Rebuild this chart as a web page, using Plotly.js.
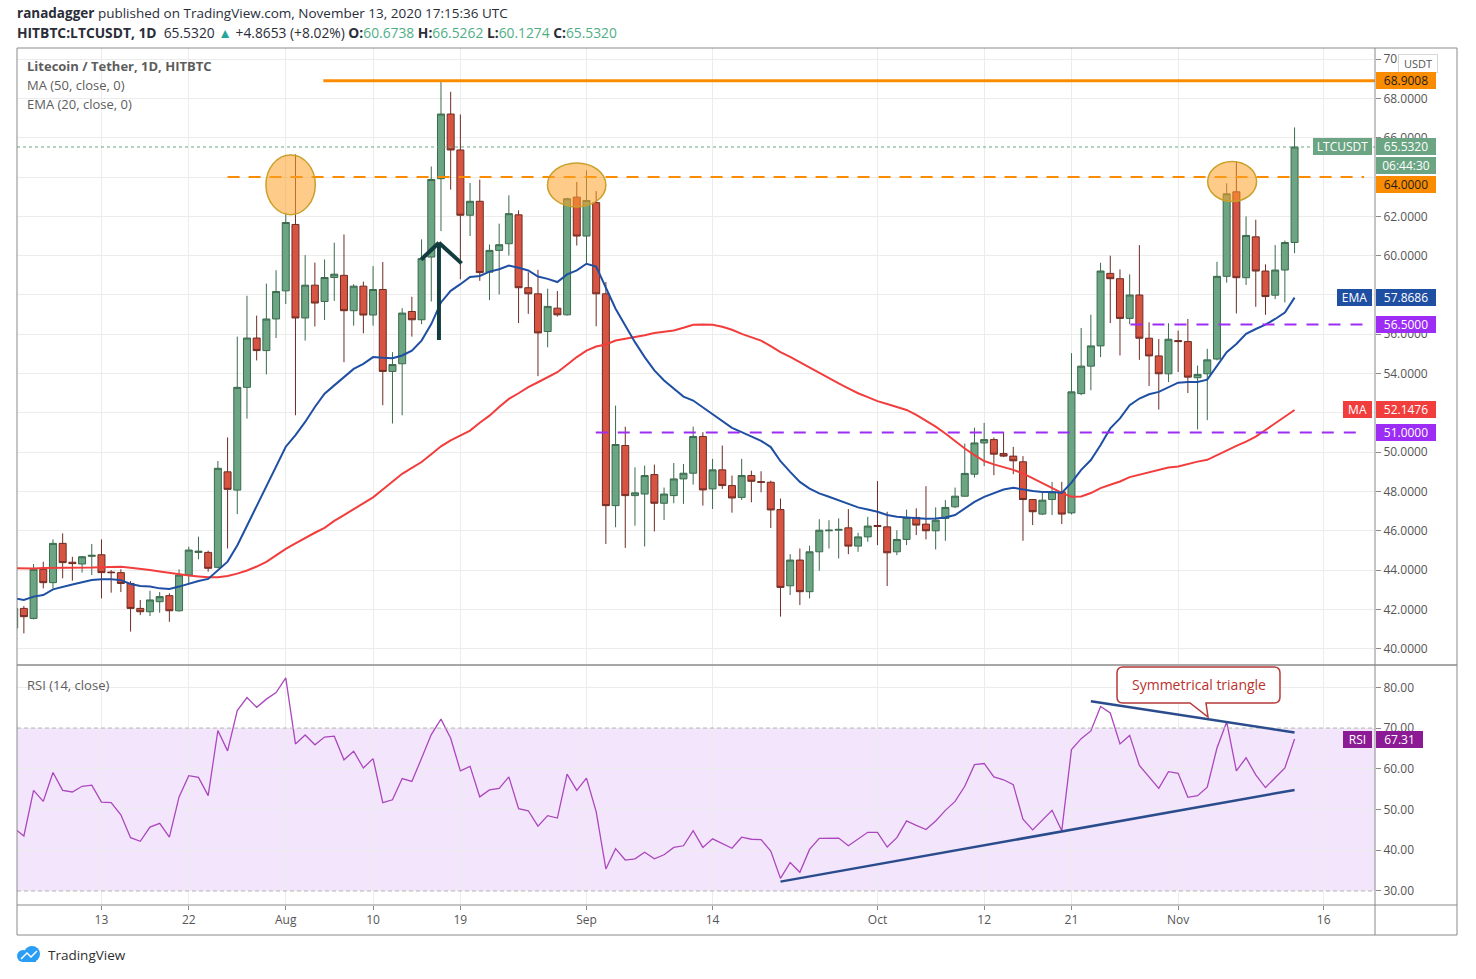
<!DOCTYPE html>
<html><head><meta charset="utf-8">
<script src="https://cdn.plot.ly/plotly-3.0.1.min.js"></script>
<style>html,body{margin:0;padding:0;background:#fff;} #chart{width:1476px;height:979px;}</style>
</head><body><div id="chart"></div>
<script>
// ---------- DATA (daily candles, 2020-07-04 .. 2020-11-13) ----------
const startDate = '2020-07-04';
const openP = [
 41.05,42.05,41.54,44.04,43.36,45.36,44.40,44.31,44.70,44.78,43.90,43.87,43.32,42.05,41.88,42.39,42.70,41.93,43.75,44.90,44.90,44.14,49.00,48.07,53.30,55.81,55.17,56.78,
 58.21,61.59,56.83,58.50,57.67,58.89,59.00,57.20,58.45,56.98,58.28,54.11,54.50,57.16,56.74,59.93,63.92,67.21,65.38,62.06,62.77,59.16,60.27,60.61,62.08,58.37,58.06,56.14,57.33,56.99,62.98,
 61.00,62.70,58.06,47.28,50.34,47.79,47.87,48.86,47.40,47.79,48.64,48.93,50.80,48.13,49.10,48.30,47.70,48.81,48.50,48.47,47.08,43.20,44.51,42.90,44.93,46.00,46.03,46.15,45.22,45.69,
 46.27,46.20,44.93,45.56,46.68,46.34,46.00,46.63,47.22,47.76,48.88,50.47,50.64,49.93,49.80,49.51,47.59,46.85,47.59,47.98,46.91,52.98,54.38,55.41,59.10,58.83,56.81,58.00,55.80,54.90,53.99,
 55.68,55.63,53.79,53.99,54.74,58.95,63.25,58.88,60.96,59.22,57.99,59.27,60.6738];
const highP = [
 42.20,42.17,44.31,44.43,45.56,45.87,44.68,44.72,45.33,45.56,44.00,44.04,43.44,42.48,42.95,42.88,42.82,44.04,45.19,45.70,44.99,49.55,50.75,55.88,57.96,56.95,58.58,59.26,
 62.18,65.16,60.03,59.65,59.81,60.66,61.08,58.55,58.68,59.47,59.68,55.09,57.33,57.91,60.83,64.54,68.88,68.34,67.19,63.70,63.87,60.57,61.63,63.07,62.31,59.16,59.28,58.32,58.20,62.95,63.75,
 64.34,63.29,58.66,52.37,51.30,49.23,49.32,49.37,48.20,49.45,49.40,51.30,51.02,49.66,50.34,48.81,49.66,49.06,49.03,48.55,47.64,44.81,45.10,45.24,46.59,46.54,46.63,47.10,45.90,46.71,
 48.53,46.97,46.03,47.08,47.14,48.27,47.19,47.56,48.20,50.44,51.25,51.49,50.75,51.03,50.27,49.80,47.62,47.98,48.49,48.49,55.04,56.32,57.00,59.64,60.00,59.30,59.05,60.54,56.61,55.76,56.56,
 56.19,56.78,54.41,55.26,59.69,63.69,64.79,62.00,61.83,59.56,60.54,60.77,66.5262];
const lowP = [
 40.95,40.78,41.49,43.07,43.07,43.58,43.46,43.87,43.75,42.56,42.85,42.88,40.87,41.71,41.66,41.83,41.37,41.88,43.32,44.55,43.92,44.09,45.10,46.85,51.71,54.67,53.96,55.81,
 57.54,51.88,55.68,56.40,56.73,57.70,54.58,56.44,56.05,56.44,52.39,51.46,51.88,55.88,56.52,57.67,61.25,63.36,58.80,61.00,58.72,57.74,58.03,60.01,56.57,57.04,53.87,55.34,56.90,56.95,60.52,
 59.62,56.41,45.33,46.18,45.13,46.26,45.20,45.97,46.55,47.40,47.37,48.35,47.28,47.11,48.13,46.92,47.57,47.45,47.96,46.14,41.63,42.73,42.22,42.56,43.97,45.10,44.59,44.81,44.93,45.44,
 45.27,43.19,44.76,45.27,45.78,45.56,45.05,45.49,47.15,47.73,48.71,49.29,48.83,49.75,48.88,45.49,46.29,46.80,46.80,46.34,46.83,52.90,53.15,54.84,56.57,54.92,56.52,54.70,53.37,52.17,53.57,
 54.08,53.01,51.16,51.63,54.67,58.63,57.06,58.51,57.40,56.99,57.79,57.62,60.1274];
const closeP = [
 42.05,41.63,44.04,43.36,45.36,44.38,44.33,44.68,44.75,43.87,43.87,43.32,42.05,41.88,42.48,42.65,41.93,43.75,45.02,44.96,44.09,49.18,48.11,53.30,55.81,55.17,56.78,58.18,
 61.69,56.83,58.50,57.59,58.89,59.06,57.20,58.45,56.98,58.28,54.11,54.46,57.08,56.74,59.85,63.88,67.21,65.38,62.06,62.77,59.14,60.27,60.56,62.14,58.37,58.06,56.07,57.42,56.99,62.90,61.00,
 62.81,58.06,47.28,50.39,47.79,47.93,48.81,47.40,47.87,48.64,48.93,50.80,48.08,49.10,48.30,47.67,48.81,48.52,48.47,47.06,43.12,44.51,42.90,44.93,46.03,46.03,46.07,45.22,45.69,46.24,
 46.22,44.88,45.56,46.68,46.29,46.00,46.54,47.19,47.76,48.92,50.47,50.64,49.90,49.80,49.56,47.59,46.97,47.56,47.98,46.85,53.07,54.38,55.41,59.22,58.83,56.81,58.00,55.80,54.90,53.99,55.75,
 55.63,53.82,53.96,54.70,58.95,63.15,58.88,61.03,59.22,57.92,59.27,60.67,65.5320];
const ma50 = [
 44.09,44.08,44.08,44.10,44.10,44.10,44.10,44.12,44.13,44.15,44.17,44.17,44.12,44.07,44.00,43.93,43.85,43.78,43.72,43.67,43.63,43.64,43.70,43.82,43.98,44.18,44.42,44.75,
 45.08,45.36,45.65,45.90,46.15,46.50,46.80,47.10,47.40,47.70,48.10,48.50,48.90,49.20,49.50,49.90,50.30,50.60,50.85,51.10,51.50,51.86,52.30,52.71,53.00,53.31,53.56,53.80,54.07,54.45,54.84,
 55.17,55.38,55.48,55.68,55.77,55.85,55.95,56.06,56.12,56.19,56.33,56.48,56.50,56.48,56.38,56.23,56.02,55.85,55.68,55.40,55.09,54.85,54.58,54.30,54.00,53.75,53.50,53.25,53.00,52.80,
 52.60,52.45,52.30,52.15,51.90,51.60,51.30,50.95,50.55,50.19,49.85,49.55,49.38,49.25,49.10,48.92,48.67,48.41,48.17,47.93,47.73,47.75,47.92,48.17,48.34,48.51,48.73,48.85,48.97,49.10,49.22,
 49.27,49.41,49.52,49.61,49.86,50.11,50.32,50.54,50.79,51.13,51.46,51.80,52.1476];
const ema20 = [
 42.56,42.48,42.65,42.73,43.02,43.16,43.27,43.38,43.49,43.53,43.53,43.49,43.29,43.19,43.16,43.07,43.04,43.16,43.32,43.44,43.55,44.00,44.43,45.25,46.25,47.25,48.25,49.30,
 50.28,50.87,51.54,52.30,52.98,53.40,53.82,54.24,54.50,54.84,54.80,54.78,54.92,55.17,55.68,56.52,57.62,58.21,58.55,58.92,58.97,59.19,59.31,59.50,59.39,59.25,58.94,58.82,58.66,59.05,59.25,
 59.59,59.45,58.40,57.30,56.45,55.60,54.84,54.16,53.65,53.22,52.83,52.63,52.29,51.95,51.61,51.24,51.02,50.80,50.58,50.26,49.54,49.00,48.49,48.15,47.90,47.73,47.56,47.36,47.19,47.08,
 46.97,46.80,46.71,46.68,46.63,46.61,46.63,46.68,46.80,47.14,47.47,47.73,47.93,48.10,48.19,48.10,48.02,47.98,47.98,47.93,48.45,49.10,49.60,50.37,51.21,51.72,52.39,52.73,52.95,53.07,53.32,
 53.54,53.57,53.57,53.69,54.41,55.09,55.51,56.02,56.27,56.49,56.78,57.11,57.8686];
const rsi14 = [
 45.4,43.5,54.7,52.0,59.1,54.7,54.3,55.7,56.0,51.8,51.7,48.7,43.1,42.2,45.7,46.6,43.2,53.1,58.3,57.9,53.4,69.4,64.4,74.3,77.5,75.1,77.1,78.7,
 82.3,66.1,68.3,65.9,67.8,68.0,62.2,64.3,60.2,62.5,51.7,52.4,57.6,56.9,62.6,68.4,72.2,67.5,59.5,60.6,53.1,54.8,55.2,58.0,50.2,49.7,45.9,48.5,47.9,58.7,54.7,
 57.7,49.5,35.4,40.4,37.6,37.9,39.5,37.9,38.9,40.7,41.1,44.8,40.7,42.8,41.6,40.5,43.2,42.7,42.6,39.8,33.1,37.0,34.6,40.2,42.9,42.9,43.0,41.1,42.7,44.4,
 44.4,40.8,43.1,47.2,46.1,45.1,47.2,49.8,52.0,55.7,61.0,61.3,58.0,57.3,56.1,47.6,45.0,47.5,49.8,44.8,64.7,67.4,69.3,75.3,73.7,66.1,68.2,60.8,58.0,55.2,59.3,
 58.9,53.0,53.4,55.5,65.1,71.5,59.5,62.7,58.5,55.4,57.9,60.2,67.31];
const tickDates  = ['2020-07-13','2020-07-22','2020-08-01','2020-08-10','2020-08-19','2020-09-01','2020-09-14','2020-10-01','2020-10-12','2020-10-21','2020-11-01','2020-11-16'];
const tickLabels = ['13','22','Aug','10','19','Sep','14','Oct','12','21','Nov','16'];
const priceTicks = [40,42,44,46,48,50,52,54,56,58,60,62,64,66,68,70];
const hiddenPriceTicks = [52,58,64];   // fully covered by the price tags in the reference
const rsiTicks = [30,40,50,60,70,80];
const levelTop = 68.9008, levelRes = 64.0, levelSup1 = 56.5, levelSup2 = 51.0;
const rsiLow = 30, rsiHigh = 70;
// trend-line anchors on RSI
const rsiSupportLine = {x: ['2020-09-21','2020-11-13'], y: [32.3, 54.8]};
const rsiResistLine  = {x: ['2020-10-23','2020-11-13'], y: [76.6, 68.9]};

// ---------- helpers ----------
const dates = closeP.map((_, i) => { const t = new Date(startDate + 'T00:00:00Z'); t.setUTCDate(t.getUTCDate() + i); return t.toISOString().slice(0,10); });
const n = closeP.length;
const L = 17, R = 1375, T = 48, B = 905;
const pxX = x => (x - L) / (R - L);
const pxY = y => (B - y) / (B - T);
const P = (x, y) => pxX(x).toFixed(5) + ',' + pxY(y).toFixed(5);
const FONT = 'Open Sans, Noto Sans, sans-serif';
const GRID = '#ececec', FRAME = '#8a8a8a';
const xRange = ['2020-07-04 07:00', '2020-11-21 07:00'];

const up = '#6ba583', dn = '#d75442';
const orange = '#fb8c00', purple = '#9d2cf5', blue = '#1f4fa3', red = '#f23d3d', rsiCol = '#ab47bc';

const traces = [
  {type:'candlestick', x:dates, open:openP, high:highP, low:lowP, close:closeP, xaxis:'x', yaxis:'y',
   increasing:{line:{color:'#3b6a4d', width:1}, fillcolor:up},
   decreasing:{line:{color:'#6e2c23', width:1}, fillcolor:dn},
   whiskerwidth:0, hoverinfo:'skip'},
  {type:'scatter', mode:'lines', x:dates, y:ma50, xaxis:'x', yaxis:'y', line:{color:red, width:2}, hoverinfo:'skip'},
  {type:'scatter', mode:'lines', x:dates, y:ema20, xaxis:'x', yaxis:'y', line:{color:blue, width:2}, hoverinfo:'skip'},
  {type:'scatter', mode:'lines', x:dates, y:rsi14, xaxis:'x2', yaxis:'y2', line:{color:rsiCol, width:1.3}, hoverinfo:'skip'}
];

const shapes = [];
// RSI band & bounds
shapes.push({type:'rect', xref:'paper', yref:'y2', x0:0, x1:1, y0:rsiLow, y1:rsiHigh, fillcolor:'#f3e6fc', line:{width:0}, layer:'below'});
[rsiLow, rsiHigh].forEach(v => shapes.push({type:'line', xref:'paper', yref:'y2', x0:0, x1:1, y0:v, y1:v, line:{color:'#b9b0bf', width:1, dash:'4px,3px'}}));
// last price dotted line
shapes.push({type:'line', xref:'paper', yref:'y', x0:0, x1:1, y0:closeP[n-1], y1:closeP[n-1], line:{color:up, width:1, dash:'dot'}});
// horizontal levels
shapes.push({type:'line', xref:'x', yref:'y', x0:'2020-08-04 21:00', x1:xRange[1], y0:levelTop, y1:levelTop, line:{color:orange, width:3}});
shapes.push({type:'line', xref:'x', yref:'y', x0:'2020-07-26', x1:'2020-11-20 04:00', y0:levelRes, y1:levelRes, line:{color:orange, width:2, dash:'12px,9px'}});
shapes.push({type:'line', xref:'x', yref:'y', x0:'2020-10-27 02:00', x1:'2020-11-20 04:00', y0:levelSup1, y1:levelSup1, line:{color:purple, width:2, dash:'12px,10px'}});
shapes.push({type:'line', xref:'x', yref:'y', x0:'2020-09-01 23:00', x1:'2020-11-20 04:00', y0:levelSup2, y1:levelSup2, line:{color:purple, width:2, dash:'12px,10px'}});
// highlight circles
const circ = (x0,x1,y0,y1) => ({type:'circle', xref:'x', yref:'y', x0, x1, y0, y1, fillcolor:'rgba(255,160,40,0.55)', line:{color:'#c9a02a', width:1.5}});
shapes.push(circ('2020-07-29 23:00','2020-08-04 01:00',62.09,65.13));
shapes.push(circ('2020-08-27 23:30','2020-09-03 00:00',62.48,64.72));
shapes.push(circ('2020-11-04 01:00','2020-11-09 02:00',62.76,64.79));
// up arrow
const arrowCol = '#133c3e';
shapes.push({type:'line', xref:'x', yref:'y', x0:'2020-08-16 19:00', x1:'2020-08-16 19:00', y0:55.71, y1:60.66, line:{color:arrowCol, width:4}});
shapes.push({type:'line', xref:'x', yref:'y', x0:'2020-08-14 23:00', x1:'2020-08-16 19:00', y0:59.81, y1:60.66, line:{color:arrowCol, width:4}});
shapes.push({type:'line', xref:'x', yref:'y', x0:'2020-08-16 19:00', x1:'2020-08-19 03:00', y0:60.66, y1:59.61, line:{color:arrowCol, width:4}});
// RSI trendlines
[rsiSupportLine, rsiResistLine].forEach(l => shapes.push({type:'line', xref:'x2', yref:'y2', x0:l.x[0], x1:l.x[1], y0:l.y[0], y1:l.y[1], line:{color:'#2b4c8c', width:2.5}}));
// callout
shapes.push({type:'path', xref:'paper', yref:'paper', fillcolor:'#ffffff', line:{color:'#b53a3a', width:1.5},
  path:`M ${P(1123,667)} L ${P(1274,667)} Q ${P(1280,667)} ${P(1280,673)} L ${P(1280,697)} Q ${P(1280,703)} ${P(1274,703)} L ${P(1206,703)} L ${P(1208,717)} L ${P(1190,703)} L ${P(1123,703)} Q ${P(1117,703)} ${P(1117,697)} L ${P(1117,673)} Q ${P(1117,667)} ${P(1123,667)} Z`});
// frame lines
const fl = (x0,y0,x1,y1,w) => shapes.push({type:'line', xref:'paper', yref:'paper', x0:pxX(x0), y0:pxY(y0), x1:pxX(x1), y1:pxY(y1), line:{color:FRAME, width:w||1}});
fl(17,48,1457,48); fl(17,48,17,935); fl(1457,48,1457,935); fl(17,935,1457,935);
fl(1375,48,1375,935); fl(17,905,1457,905); fl(17,665,1457,665,1.5);
// logo
shapes.push({type:'circle', xref:'paper', yref:'paper', x0:pxX(17), x1:pxX(29), y0:pxY(962), y1:pxY(950), fillcolor:'#2a9df4', line:{width:0}});
shapes.push({type:'circle', xref:'paper', yref:'paper', x0:pxX(24), x1:pxX(40), y0:pxY(962), y1:pxY(946), fillcolor:'#2a9df4', line:{width:0}});
shapes.push({type:'rect', xref:'paper', yref:'paper', x0:pxX(22), x1:pxX(36), y0:pxY(962), y1:pxY(955), fillcolor:'#2a9df4', line:{width:0}});
shapes.push({type:'path', xref:'paper', yref:'paper', path:`M ${P(21,959)} L ${P(27,953)} L ${P(31,957)} L ${P(37,951)}`, line:{color:'#ffffff', width:1.5}});

// ---------- annotations ----------
const ann = [];
const txt = (x, y, text, size, color, extra) => ann.push(Object.assign({xref:'paper', yref:'paper', x:pxX(x), y:pxY(y), xanchor:'left', yanchor:'middle', text, showarrow:false, font:{family:FONT, size, color}}, extra||{}));
txt(15, 13, '<b>ranadagger</b> published on TradingView.com, November 13, 2020 17:15:36 UTC', 13.5, '#2a2e39');
const teal = '#4fae85';
txt(15, 32, '<b>HITBTC:LTCUSDT, 1D</b>  ' + closeP[n-1].toFixed(4) + ' <span style="color:#26a69a">▲</span> +4.8653 (+8.02%) <b>O:</b><span style="color:'+teal+'">' + openP[n-1].toFixed(4) + '</span> <b>H:</b><span style="color:'+teal+'">' + highP[n-1].toFixed(4) + '</span> <b>L:</b><span style="color:'+teal+'">' + lowP[n-1].toFixed(4) + '</span> <b>C:</b><span style="color:'+teal+'">' + closeP[n-1].toFixed(4) + '</span>', 13.8, '#2a2e39');
txt(25, 66, '<b>Litecoin / Tether, 1D, HITBTC</b>', 13, '#5d5d5d');
txt(25, 85, 'MA (50, close, 0)', 13, '#5d5d5d');
txt(25, 104, 'EMA (20, close, 0)', 13, '#5d5d5d');
txt(25, 685, 'RSI (14, close)', 13, '#5d5d5d');
txt(1198.5, 684, 'Symmetrical triangle', 14, '#b8332e', {xanchor:'center'});
txt(46, 955, 'TradingView', 13.5, '#2f2f2f');
// right-side price tags
const tag = (text, yref, yv, bg, fg, xleft, w) => ann.push({xref:'paper', yref, x:pxX(xleft), y:yv, xanchor:'left', yanchor:'middle', text, showarrow:false,
  bgcolor:bg, borderwidth:0, borderpad:2, width:w, height:13, align:'center', font:{family:FONT, size:12, color:fg}});
tag('USDT', 'paper', pxY(64), '#ffffff', '#555555', 1398, 34);
ann[ann.length-1].bordercolor = '#d6d6d6'; ann[ann.length-1].borderwidth = 1; ann[ann.length-1].font.size = 11;
tag(levelTop.toFixed(4), 'y', levelTop, orange, '#1d1d1d', 1376, 56);
tag('LTCUSDT', 'y', closeP[n-1], up, '#ffffff', 1313, 55);
tag(closeP[n-1].toFixed(4), 'y', closeP[n-1], up, '#ffffff', 1376, 56);
tag('06:44:30', 'paper', pxY(165), up, '#ffffff', 1376, 56);
tag(levelRes.toFixed(4), 'paper', pxY(184), orange, '#1d1d1d', 1376, 56);
tag('EMA', 'y', ema20[n-1], blue, '#ffffff', 1337, 31);
tag(ema20[n-1].toFixed(4), 'y', ema20[n-1], blue, '#ffffff', 1376, 56);
tag(levelSup1.toFixed(4), 'y', levelSup1, purple, '#ffffff', 1376, 56);
tag('MA', 'y', ma50[n-1], red, '#ffffff', 1343, 25);
tag(ma50[n-1].toFixed(4), 'y', ma50[n-1], red, '#ffffff', 1376, 56);
tag(levelSup2.toFixed(4), 'y', levelSup2, purple, '#ffffff', 1376, 56);
tag('RSI', 'y2', rsi14[n-1], '#8c1a95', '#ffffff', 1343, 25);
tag(rsi14[n-1].toFixed(2), 'y2', rsi14[n-1], '#8c1a95', '#ffffff', 1376, 43);

// ---------- layout ----------
const tickFont = {family:FONT, size:12, color:'#555555'};
const layout = {
  width:1476, height:979, paper_bgcolor:'#ffffff', plot_bgcolor:'#ffffff',
  margin:{l:L, r:1476-R, t:T, b:979-B}, showlegend:false, hovermode:false, dragmode:false,
  boxgap:0.28, boxgroupgap:0,
  xaxis:{type:'date', anchor:'y', range:xRange, tickvals:tickDates, ticktext:tickLabels, showticklabels:false, ticks:'',
         showgrid:true, gridcolor:GRID, zeroline:false, showline:false, rangeslider:{visible:false}, fixedrange:true},
  xaxis2:{type:'date', anchor:'y2', matches:'x', range:xRange, tickvals:tickDates, ticktext:tickLabels, ticks:'outside', ticklen:4, tickcolor:FRAME,
          tickfont:tickFont, showgrid:true, gridcolor:GRID, zeroline:false, showline:false, fixedrange:true},
  yaxis:{domain:[0.2812,1], anchor:'x', side:'right', range:[39.22,70.57], tickvals:priceTicks,
         ticktext:priceTicks.map(v => hiddenPriceTicks.includes(v) ? '' : v.toFixed(4)), ticks:'outside', ticklen:5, tickcolor:FRAME,
         tickfont:tickFont, showgrid:true, gridcolor:GRID, zeroline:false, showline:false, fixedrange:true},
  yaxis2:{domain:[0,0.2800], anchor:'x2', side:'right', range:[26.56,85.47], tickvals:rsiTicks, ticktext:rsiTicks.map(v => v.toFixed(2)), ticks:'outside', ticklen:5, tickcolor:FRAME,
          tickfont:tickFont, showgrid:true, gridcolor:GRID, zeroline:false, showline:false, fixedrange:true},
  shapes, annotations:ann
};
Plotly.newPlot('chart', traces, layout, {staticPlot:true, displayModeBar:false});
</script>
</body></html>
